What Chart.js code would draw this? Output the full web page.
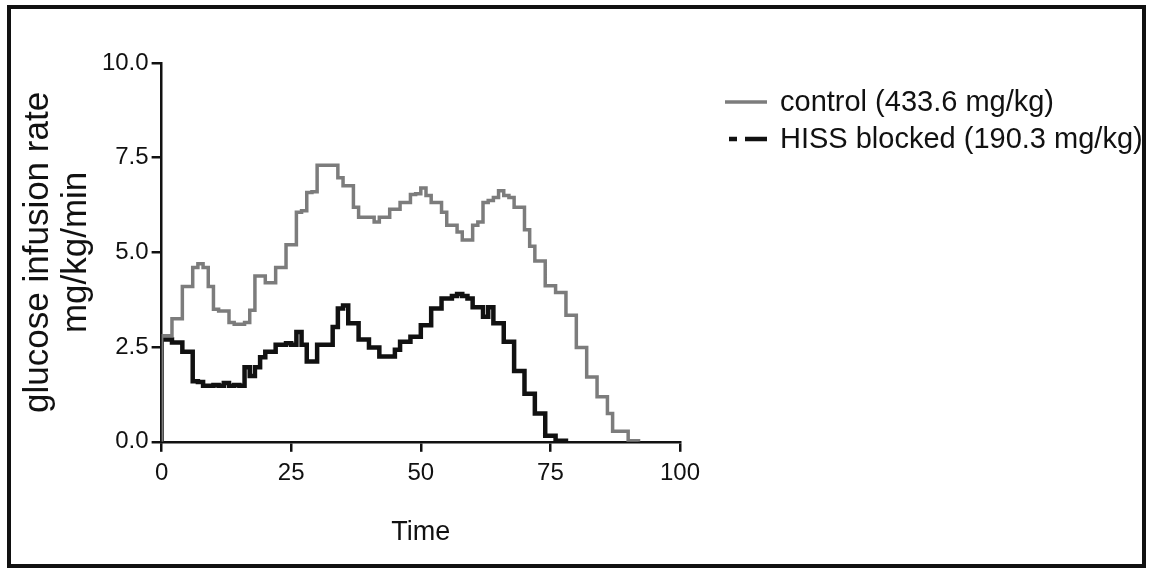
<!DOCTYPE html>
<html>
<head>
<meta charset="utf-8">
<title>glucose infusion rate</title>
<script src="https://cdn.jsdelivr.net/npm/chart.js@4.4.1/dist/chart.umd.min.js"></script>
<style>
  html, body { margin: 0; padding: 0; background: #fff; }
  #page { position: relative; width: 1151px; height: 580px; overflow: hidden; }
  #frame {
    position: absolute; left: 7px; top: 5px; width: 1139px; height: 563px;
    border: 4px solid #111; box-sizing: border-box;
  }
  #rateChart { position: absolute; left: 0; top: 0; }
</style>
</head>
<body>
<div id="page">
  <div id="frame"></div>
  <canvas id="rateChart" width="1151" height="580"></canvas>
</div>
<script>
// glucose infusion rate per minute (mg/kg/min), value holds until the next minute
const controlRate = [
  2.8, 2.8, 3.25, 3.25, 4.1, 4.1, 4.6, 4.7, 4.6, 4.1,
  3.5, 3.45, 3.45, 3.15, 3.1, 3.1, 3.15, 3.47, 4.38, 4.38,
  4.2, 4.2, 4.6, 4.6, 5.2, 5.2, 6.06, 6.1, 6.58, 6.6,
  7.3, 7.3, 7.3, 7.3, 6.97, 6.76, 6.76, 6.19, 5.93, 5.93,
  5.93, 5.8, 5.93, 5.93, 6.14, 6.14, 6.32, 6.32, 6.53, 6.55,
  6.7, 6.5, 6.32, 6.32, 6.06, 5.72, 5.72, 5.54, 5.33, 5.33,
  5.72, 5.8, 6.32, 6.37, 6.45, 6.63, 6.5, 6.45, 6.19, 6.19,
  5.6, 5.16, 4.77, 4.77, 4.12, 4.12, 3.94, 3.94, 3.34, 3.34,
  2.49, 2.49, 1.71, 1.71, 1.19, 1.19, 0.75, 0.28, 0.28, 0.28,
  0.03, 0.03, 0
];
const hissRate = [
  2.7, 2.7, 2.62, 2.62, 2.38, 2.38, 1.6, 1.58, 1.48, 1.48,
  1.5, 1.48, 1.55, 1.48, 1.5, 1.48, 1.97, 1.74, 1.97, 2.23,
  2.38, 2.38, 2.56, 2.56, 2.6, 2.56, 2.9, 2.56, 2.12, 2.12,
  2.56, 2.56, 2.56, 3.03, 3.52, 3.6, 3.13, 3.13, 2.7, 2.7,
  2.49, 2.49, 2.25, 2.25, 2.25, 2.43, 2.64, 2.64, 2.77, 2.77,
  3.08, 3.08, 3.52, 3.52, 3.78, 3.78, 3.85, 3.9, 3.85, 3.78,
  3.55, 3.55, 3.3, 3.55, 3.13, 3.13, 2.64, 2.64, 1.87, 1.87,
  1.27, 1.27, 0.75, 0.75, 0.16, 0.16, 0.03, 0.03, 0
];
const seriesNames = ['control (433.6 mg/kg)', 'HISS blocked (190.3 mg/kg)'];
const xTicks = [0, 25, 50, 75, 100];
const yTicks = ['0.0', '2.5', '5.0', '7.5', '10.0'];
const yTitle = ['glucose infusion rate', 'mg/kg/min'];
const xTitle = 'Time';

const FONT = "'Liberation Sans', Arial, Helvetica, sans-serif";
const INK = '#111';

// minute index -> x, plus a rise from zero at t = 0
function toSteps(values) {
  return [{ x: 0, y: 0 }].concat(values.map((v, i) => ({ x: i, y: v })));
}

const legendDash = [[], [22, 8, 8, 8]];

// legend drawn in the free space right of the plot
const sideLegend = {
  id: 'sideLegend',
  afterDraw(chart) {
    const { ctx, chartArea } = chart;
    const x0 = chartArea.right + 45;
    let y = chartArea.top + 39;
    chart.data.datasets.forEach((ds, i) => {
      ctx.save();
      ctx.strokeStyle = ds.borderColor;
      ctx.lineWidth = ds.borderWidth;
      ctx.setLineDash(legendDash[i]);
      ctx.beginPath();
      ctx.moveTo(x0 + 42, y);
      ctx.lineTo(x0, y);
      ctx.stroke();
      ctx.setLineDash([]);
      ctx.fillStyle = INK;
      ctx.font = '29px ' + FONT;
      ctx.textBaseline = 'middle';
      ctx.fillText(ds.label, x0 + 55, y + 1);
      ctx.restore();
      y += 37;
    });
  }
};

new Chart(document.getElementById('rateChart'), {
  type: 'line',
  data: {
    datasets: [
      {
        label: seriesNames[0],
        data: toSteps(controlRate),
        stepped: 'before',
        borderColor: '#7c7c7c',
        borderWidth: 3.5,
        pointRadius: 0,
        fill: false
      },
      {
        label: seriesNames[1],
        data: toSteps(hissRate),
        stepped: 'before',
        borderColor: INK,
        borderWidth: 4.5,
        pointRadius: 0,
        fill: false
      }
    ]
  },
  options: {
    responsive: false,
    animation: false,
    devicePixelRatio: 1,
    layout: { padding: { top: 63, left: 16, right: 471, bottom: 27 } },
    scales: {
      x: {
        type: 'linear',
        min: 0,
        max: 100,
        afterBuildTicks: axis => { axis.ticks = xTicks.map(v => ({ value: v })); },
        border: { display: true, color: INK, width: 2.5 },
        grid: { display: true, drawOnChartArea: false, drawTicks: true, tickLength: 10, color: INK, lineWidth: 2.5 },
        ticks: { color: INK, padding: 7, maxRotation: 0, font: { family: FONT, size: 24 } },
        title: {
          display: true, text: xTitle, color: INK,
          padding: { top: 22, bottom: 4 },
          font: { family: FONT, size: 27 }
        }
      },
      y: {
        type: 'linear',
        min: 0,
        max: 10,
        afterBuildTicks: axis => { axis.ticks = yTicks.map(t => ({ value: parseFloat(t) })); },
        border: { display: true, color: INK, width: 2.5 },
        grid: { display: true, drawOnChartArea: false, drawTicks: true, tickLength: 10, color: INK, lineWidth: 2.5 },
        ticks: {
          color: INK, padding: 3,
          font: { family: FONT, size: 24 },
          callback: (value, i) => yTicks[i]
        },
        title: {
          display: true, text: yTitle, color: INK,
          padding: { top: 4, bottom: 4 },
          font: { family: FONT, size: 35, lineHeight: 1.07 }
        }
      }
    },
    plugins: {
      tooltip: { enabled: false },
      legend: { display: false }
    }
  },
  plugins: [sideLegend]
});
</script>
</body>
</html>
